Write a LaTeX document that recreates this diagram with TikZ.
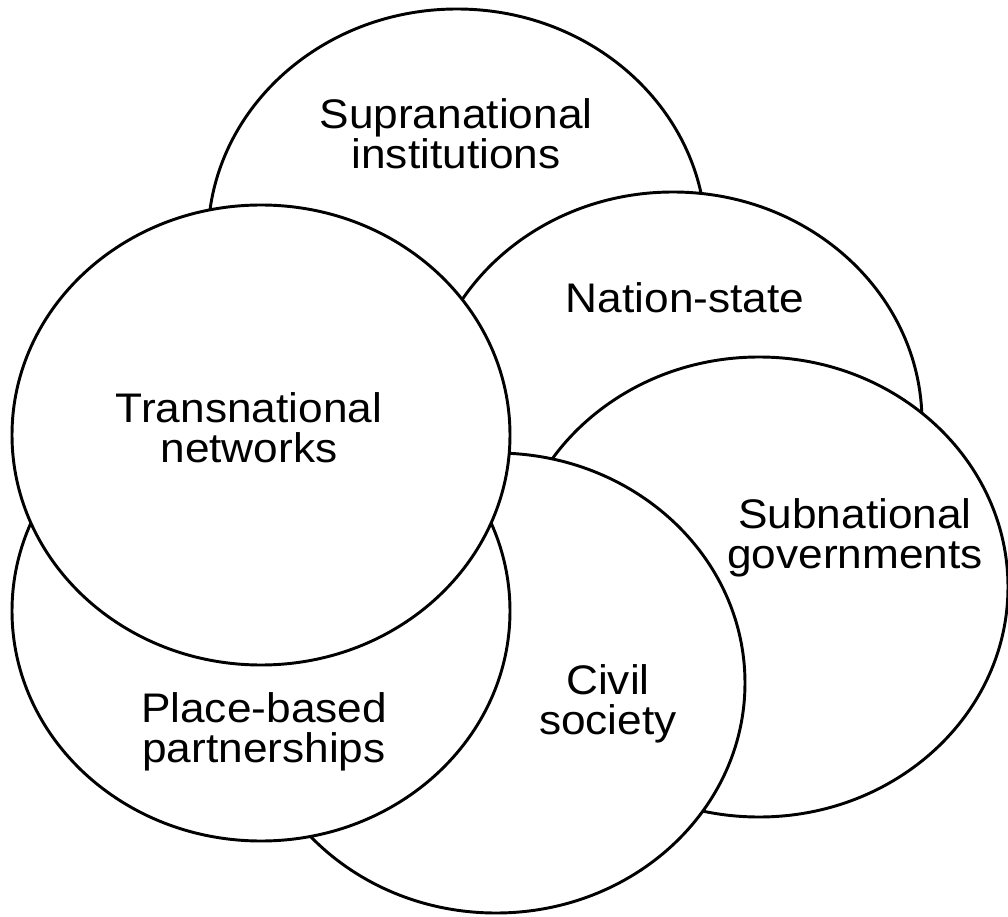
\documentclass[tikz,border=0pt]{standalone}
\usepackage{fontspec}
\setmainfont{Liberation Sans}[FakeStretch=1.07]
\usetikzlibrary{shapes.geometric}

\begin{document}
\begin{tikzpicture}[
  x=0.75pt, y=-0.75pt,
  sphere/.style={ellipse, draw=black, fill=white, line width=2.2pt,
    minimum width=373.5pt, minimum height=345pt, inner sep=0pt, outer sep=0pt},
  tag/.style={align=center, inner sep=0pt,
    font=\fontsize{31pt}{30pt}\selectfont}
]
\useasboundingbox (0,0) rectangle (1008,917);

% overlapping spheres of governance, drawn from the back to the front
\node[sphere] (supra)  at (457,239) {};
\node[sphere] (nation) at (673,422) {};
\node[sphere] (subnat) at (759,587) {};
\node[sphere] (civil)  at (496,683) {};
\node[sphere] (place)  at (261,611) {};
\node[sphere] (trans)  at (261,435) {};

% labels
\node[tag] (supraT)  at (456,134) {Supranational\\institutions};
\node[tag] (nationT) at (685,298) {Nation-state};
\node[tag] (transT)  at (249,428) {Transnational\\networks};
\node[tag] (subnatT) at (855,538) {Subnational\\governments};
\node[tag] (civilT)  at (608,704) {Civil\\society};
\node[tag] (placeT)  at (264,732) {Place-based\\partnerships};
\end{tikzpicture}
\end{document}
